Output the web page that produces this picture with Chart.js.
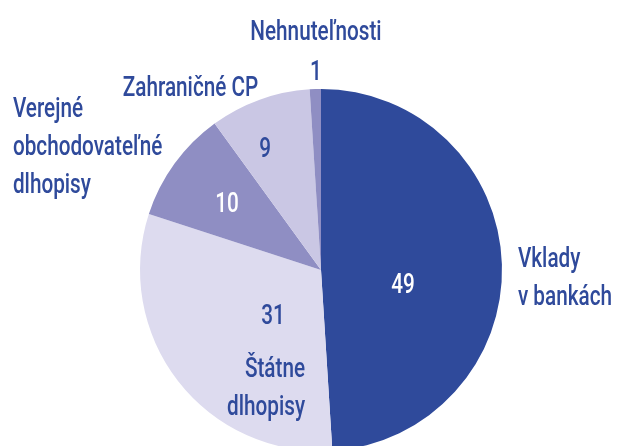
<!DOCTYPE html>
<html>
<head>
<meta charset="utf-8">
<script src="https://cdn.jsdelivr.net/npm/chart.js@4/dist/chart.umd.min.js"></script>
<style>
  html, body { margin: 0; padding: 0; background: #fff; overflow: hidden; }
  #wrap { position: relative; width: 618px; height: 460px; }
</style>
</head>
<body>
<div id="wrap"><canvas id="myChart"></canvas></div>
<script>
// data
const categories = [
  ['Vklady', 'v bankách'],
  ['Štátne', 'dlhopisy'],
  ['Verejné', 'obchodovateľné', 'dlhopisy'],
  ['Zahraničné CP'],
  ['Nehnuteľnosti']
];
const shares = [49, 31, 10, 9, 1];

const sliceColors = ['#2f4a9b', '#dddbef', '#8f8ec3', '#cac7e4', '#8f8ec3'];
const textBlue = '#2f4a9b';
const labelFont = '500 28px Roboto, "DejaVu Sans", sans-serif';
const squeeze = 0.74;   // the original type is a condensed face
const lineGap = 38;

// where the texts sit, in units of the pie radius from its centre
const place = [
  { v: [0.453, 0.127], vc: '#fff', n: [1.088, -0.017], a: 'left' },
  { v: [-0.265, 0.298], vc: textBlue, n: [-0.088, 0.591], a: 'right' },
  { v: [-0.519, -0.320], vc: '#fff', n: [-1.702, -0.845], a: 'left' },
  { v: [-0.309, -0.624], vc: textBlue, n: [-0.721, -0.961], a: 'center' },
  { v: [-0.028, -1.050], vc: textBlue, n: [-0.028, -1.271], a: 'center' }
];

function narrowText(ctx, txt, x, y) {
  ctx.save();
  ctx.translate(x, y);
  ctx.scale(squeeze, 1);
  ctx.fillText(txt, 0, 0);
  ctx.restore();
}

const pieLabels = {
  id: 'pieLabels',
  afterDatasetsDraw(chart) {
    const ctx = chart.ctx;
    const arcs = chart.getDatasetMeta(0).data;
    ctx.save();
    ctx.font = labelFont;
    ctx.textBaseline = 'alphabetic';
    arcs.forEach(function(arc, i) {
      const p = arc.getProps(['x', 'y', 'outerRadius'], true);
      const r = p.outerRadius;
      const pl = place[i];
      ctx.fillStyle = pl.vc;
      ctx.textAlign = 'center';
      narrowText(ctx, String(chart.data.datasets[0].data[i]), p.x + pl.v[0] * r, p.y + pl.v[1] * r);
      ctx.fillStyle = textBlue;
      ctx.textAlign = pl.a;
      categories[i].forEach(function(line, k) {
        narrowText(ctx, line, p.x + pl.n[0] * r, p.y + pl.n[1] * r + k * lineGap);
      });
    });
    ctx.restore();
  }
};

var ctx = document.getElementById('myChart').getContext('2d');
var myChart = new Chart(ctx, {
  type: 'pie',
  data: {
    labels: categories.map(c => c.join(' ')),
    datasets: [{
      data: shares,
      backgroundColor: sliceColors,
      borderWidth: 0
    }]
  },
  options: {
    responsive: true,
    maintainAspectRatio: false,
    animation: false,
    rotation: 0,
    layout: { padding: { top: 89, bottom: 9, left: 140, right: 116 } },
    plugins: {
      legend: { display: false },
      tooltip: { enabled: false }
    }
  },
  plugins: [pieLabels]
});
</script>
</body>
</html>
